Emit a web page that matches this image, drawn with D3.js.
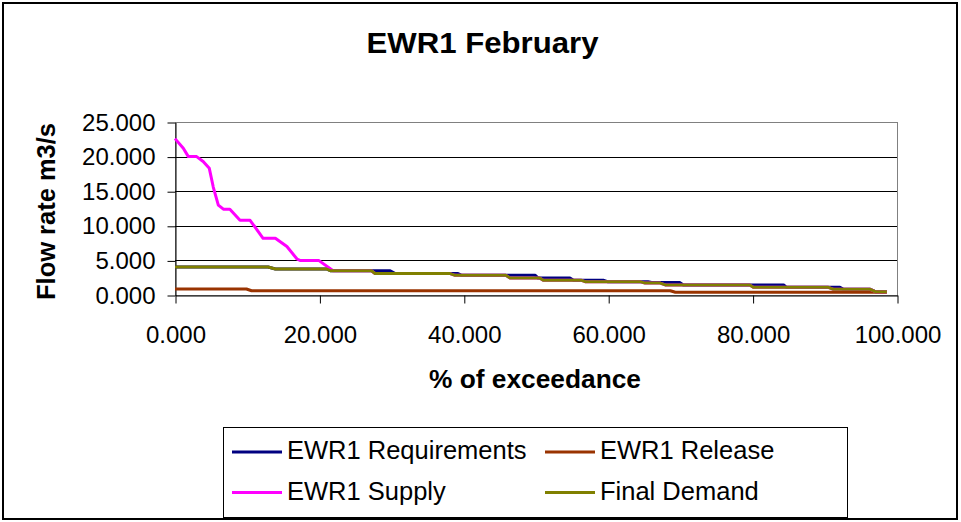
<!DOCTYPE html>
<html>
<head>
<meta charset="utf-8">
<script src="https://cdn.jsdelivr.net/npm/d3@7"></script>
<style>
  html, body { margin: 0; padding: 0; background: #fff; }
  svg { display: block; font-family: "Liberation Sans", Arial, sans-serif; }
</style>
</head>
<body>
<svg id="chart" width="961" height="522"></svg>
<script>
// Flow duration values (% of exceedance vs flow rate, m3/s)
const requirementsX = [0, 12.9, 13.9, 21.0, 21.5, 29.8, 30.5, 39.2, 39.7, 49.9, 50.3, 54.7, 55.2, 59.4, 59.9, 65.5, 66.0, 69.9, 70.4, 84.3, 84.7, 92.1, 92.6, 96.3, 97.0, 98.6];
const requirementsY = [4.05, 4.05, 3.76, 3.76, 3.51, 3.51, 3.10, 3.10, 2.84, 2.84, 2.45, 2.45, 2.12, 2.12, 1.93, 1.93, 1.80, 1.80, 1.45, 1.45, 1.11, 1.11, 0.82, 0.82, 0.48, 0.48];

const releaseX = [0, 9.9, 10.6, 68.6, 69.3, 98.6];
const releaseY = [0.87, 0.87, 0.62, 0.62, 0.39, 0.39];

const supplyX = [0, 1.15, 1.85, 3.0, 3.9, 4.75, 5.3, 6.0, 6.7, 7.6, 9.0, 10.4, 12.2, 13.9, 15.5, 16.9, 17.3, 19.9, 21.9, 27.2, 27.7, 38.1, 38.8, 45.8, 46.4, 50.5, 51.0, 56.3, 56.8, 64.4, 65.1, 67.2, 67.9, 79.6, 80.1, 90.5, 91.2, 96.3, 97.0, 98.6];
const supplyY = [22.6, 21.2, 20.0, 20.0, 19.3, 18.3, 15.6, 13.0, 12.4, 12.4, 10.8, 10.8, 8.2, 8.2, 7.0, 5.2, 5.0, 5.0, 3.51, 3.51, 3.10, 3.10, 2.84, 2.84, 2.45, 2.45, 2.12, 2.12, 1.93, 1.93, 1.72, 1.72, 1.45, 1.45, 1.11, 1.11, 0.82, 0.82, 0.48, 0.48];

const demandX = [0, 12.9, 13.9, 21.0, 21.5, 27.2, 27.7, 38.1, 38.8, 45.8, 46.4, 50.5, 51.0, 56.3, 56.8, 64.4, 65.1, 67.2, 67.9, 79.6, 80.1, 90.5, 91.2, 96.3, 97.0, 98.6];
const demandY = [4.05, 4.05, 3.76, 3.76, 3.51, 3.51, 3.10, 3.10, 2.84, 2.84, 2.45, 2.45, 2.12, 2.12, 1.93, 1.93, 1.72, 1.72, 1.45, 1.45, 1.11, 1.11, 0.82, 0.82, 0.48, 0.48];

const seriesNames = ["EWR1 Requirements", "EWR1 Release", "EWR1 Supply", "Final Demand"];
const seriesColors = ["#000080", "#993300", "#ff00ff", "#808000"];

const xTicks = [0, 20, 40, 60, 80, 100];
const yTicks = [0, 5, 10, 15, 20, 25];

const chartTitle = "EWR1 February";
const xTitle = "% of exceedance";
const yTitle = "Flow rate m3/s";

const series = [
  { name: seriesNames[0], color: seriesColors[0], xs: requirementsX, ys: requirementsY },
  { name: seriesNames[1], color: seriesColors[1], xs: releaseX, ys: releaseY },
  { name: seriesNames[2], color: seriesColors[2], xs: supplyX, ys: supplyY },
  { name: seriesNames[3], color: seriesColors[3], xs: demandX, ys: demandY }
];

const svg = d3.select("#chart");
const plot = { left: 175, right: 897, top: 122, bottom: 295 };

const x = d3.scaleLinear().domain([0, 100]).range([plot.left, plot.right]);
const y = d3.scaleLinear().domain([0, 25]).range([plot.bottom, plot.top]);

// outer chart frame
svg.append("rect")
  .attr("x", 3).attr("y", 3).attr("width", 954).attr("height", 516)
  .attr("fill", "#fff").attr("stroke", "#000").attr("stroke-width", 2);

// title
svg.append("text")
  .attr("x", 482.5).attr("y", 53)
  .attr("text-anchor", "middle")
  .attr("font-size", 29).attr("font-weight", "bold")
  .attr("textLength", 232).attr("lengthAdjust", "spacingAndGlyphs")
  .text(chartTitle);

// plot frame (top and right show in grey)
svg.append("rect")
  .attr("x", plot.left + 0.5).attr("y", plot.top + 0.5)
  .attr("width", plot.right - plot.left).attr("height", plot.bottom - plot.top)
  .attr("fill", "#fff").attr("stroke", "#808080").attr("stroke-width", 1);

// horizontal gridlines
svg.append("g")
  .selectAll("line")
  .data(yTicks.filter(v => v > 0 && v < 25))
  .join("line")
  .attr("x1", plot.left).attr("x2", plot.right)
  .attr("y1", d => Math.round(y(d)) + 0.5).attr("y2", d => Math.round(y(d)) + 0.5)
  .attr("stroke", "#000").attr("stroke-width", 1);

// axes
const yAxis = d3.axisLeft(y)
  .tickValues(yTicks)
  .tickFormat(d3.format(".3f"))
  .tickSize(8).tickSizeOuter(0).tickPadding(12);
const gy = svg.append("g")
  .attr("transform", `translate(${plot.left + 0.5},0.5)`)
  .call(yAxis);

const xAxis = d3.axisBottom(x)
  .tickValues(xTicks)
  .tickFormat(d3.format(".3f"))
  .tickSize(8).tickSizeOuter(0).tickPadding(22);
const gx = svg.append("g")
  .attr("transform", `translate(0.5,${plot.bottom + 0.5})`)
  .call(xAxis);

[gx, gy].forEach(g => {
  g.selectAll("path.domain").attr("stroke", "#000");
  g.selectAll(".tick line").attr("stroke", "#000");
  g.selectAll(".tick text")
    .attr("fill", "#000")
    .attr("font-size", 24)
    .attr("font-family", "\"Liberation Sans\", Arial, sans-serif");
});

// series lines
const line = d3.line()
  .x(d => x(d[0]))
  .y(d => y(d[1]));

svg.append("g")
  .selectAll("path")
  .data(series)
  .join("path")
  .attr("d", s => line(s.xs.map((v, i) => [v, s.ys[i]])))
  .attr("fill", "none")
  .attr("stroke", s => s.color)
  .attr("stroke-width", 3)
  .attr("stroke-linejoin", "round")
  .attr("stroke-linecap", "butt");

// axis titles
svg.append("text")
  .attr("transform", `translate(55,${(plot.top + plot.bottom) / 2 + 3}) rotate(-90)`)
  .attr("text-anchor", "middle")
  .attr("font-size", 25).attr("font-weight", "bold")
  .attr("textLength", 177).attr("lengthAdjust", "spacingAndGlyphs")
  .text(yTitle);

svg.append("text")
  .attr("x", (plot.left + plot.right) / 2 - 1).attr("y", 388)
  .attr("text-anchor", "middle")
  .attr("font-size", 25).attr("font-weight", "bold")
  .attr("textLength", 212).attr("lengthAdjust", "spacingAndGlyphs")
  .text(xTitle);

// legend
const legend = svg.append("g");
legend.append("rect")
  .attr("x", 223.5).attr("y", 427.5).attr("width", 624).attr("height", 90)
  .attr("fill", "#fff").attr("stroke", "#000").attr("stroke-width", 1);

const legendCols = [232, 545];
const legendRows = [452, 492.5];
const items = legend.selectAll("g.item")
  .data(series)
  .join("g")
  .attr("class", "item")
  .attr("transform", (d, i) => `translate(${legendCols[i % 2]},${legendRows[Math.floor(i / 2)]})`);

items.append("line")
  .attr("x1", 0).attr("x2", 50).attr("y1", 0).attr("y2", 0)
  .attr("stroke", d => d.color).attr("stroke-width", 3);

items.append("text")
  .attr("x", 55).attr("y", 7)
  .attr("font-size", 25.5)
  .text(d => d.name);
</script>
</body>
</html>
